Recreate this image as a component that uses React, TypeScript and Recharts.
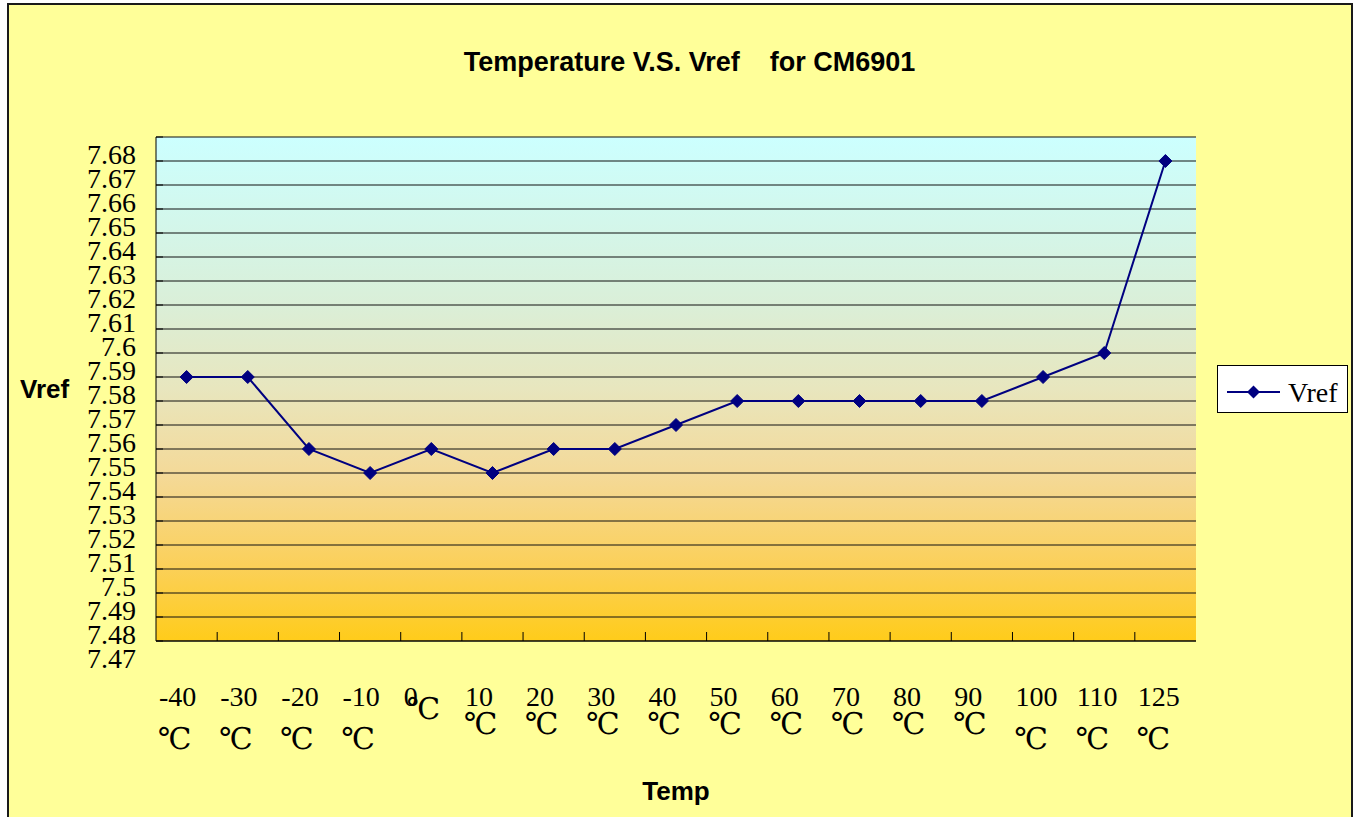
import React from "react";
import { LineChart, Line, XAxis, YAxis, CartesianGrid, Legend, Label } from "recharts";

const temps = ["-40℃", "-30℃", "-20℃", "-10℃", "0℃", "10℃", "20℃", "30℃", "40℃", "50℃", "60℃", "70℃", "80℃", "90℃", "100℃", "110℃", "125℃"];
const vref = [7.59, 7.59, 7.56, 7.55, 7.56, 7.55, 7.56, 7.56, 7.57, 7.58, 7.58, 7.58, 7.58, 7.58, 7.59, 7.6, 7.68];
const yTicks = [7.69, 7.68, 7.67, 7.66, 7.65, 7.64, 7.63, 7.62, 7.61, 7.6, 7.59, 7.58, 7.57, 7.56, 7.55, 7.54, 7.53, 7.52, 7.51, 7.5, 7.49, 7.48];
const yLabels = ["7.68", "7.67", "7.66", "7.65", "7.64", "7.63", "7.62", "7.61", "7.6", "7.59", "7.58", "7.57", "7.56", "7.55", "7.54", "7.53", "7.52", "7.51", "7.5", "7.49", "7.48", "7.47"];

const data = temps.map((t, i) => ({ temp: t, Vref: vref[i] }));

const NAVY = "#000080";
const SERIF = '"Liberation Serif", "Times New Roman", serif';
const DEG_FONT = '"DejaVu Serif", "Liberation Serif", serif';
const SANS = '"Liberation Sans", Arial, sans-serif';
const PLOT_W = 1040;
const BAND = PLOT_W / temps.length;
const SECOND_LINE_DY: Record<number, number> = { 1: 13, 2: 28, 3: 43 };

const YTick = (props: any) => {
  const { x, y, payload } = props;
  const idx = yTicks.indexOf(payload.value);
  const label = yLabels[idx];
  return (
    <g>
      <line x1={x} x2={x + 7} y1={y} y2={y} stroke="#000" strokeWidth={1} />
      <text x={x - 20} y={y + 27} textAnchor="end" fontFamily={SERIF} fontSize={28} fill="#000">
        {label}
      </text>
    </g>
  );
};

const XTick = (props: any) => {
  const { x, y, payload, index } = props;
  const text: string = String(payload.value);
  const num = text.replace("℃", "");
  const left = x - BAND / 2;
  const dy = SECOND_LINE_DY[num.length] ?? 43;
  const degX = num.length === 1 ? left + 6 : left + 2;
  return (
    <g>
      {index > 0 && <line x1={left} x2={left} y1={y - 9} y2={y} stroke="#000" strokeWidth={1} />}
      <text x={left + 3} y={y + 65} fontFamily={SERIF} fontSize={28} fill="#000">
        {num}
      </text>
      <text x={degX} y={y + 65 + dy} fontFamily={DEG_FONT} fontSize={30} fill="#000">
        ℃
      </text>
    </g>
  );
};

const Diamond = (props: any) => {
  const { cx, cy, index } = props;
  if (cx == null || cy == null) return <g key={`d-${index}`} />;
  const r = 6.5;
  return (
    <polygon
      key={`d-${index}`}
      points={`${cx},${cy - r} ${cx + r},${cy} ${cx},${cy + r} ${cx - r},${cy}`}
      fill={NAVY}
      stroke={NAVY}
      strokeWidth={1}
    />
  );
};

const LegendBox = (props: any) => {
  const name = props?.payload?.[0]?.value ?? "Vref";
  return (
    <svg width={131} height={48} style={{ display: "block" }}>
      <rect x={0.5} y={0.5} width={130} height={47} fill="#fff" stroke="#000" strokeWidth={1} />
      <line x1={10} x2={63} y1={27} y2={27} stroke={NAVY} strokeWidth={2} />
      <polygon points="36.5,20.5 43,27 36.5,33.5 30,27" fill={NAVY} />
      <text x={71} y={37} fontFamily={SERIF} fontSize={28} fill="#000">
        {name}
      </text>
    </svg>
  );
};

export default function App() {
  return (
    <div style={{ position: "absolute", left: 0, top: 0, width: 1358, height: 817, overflow: "hidden", background: "#fff" }}>
      <div
        style={{
          position: "absolute",
          left: 7,
          top: 3,
          width: 1346,
          height: 840,
          boxSizing: "border-box",
          background: "#FFFF99",
          border: "2px solid #1a1a1a",
        }}
      />
      <div
        style={{
          position: "absolute",
          left: 0,
          top: 49,
          width: 1379,
          textAlign: "center",
          fontFamily: SANS,
          fontWeight: "bold",
          fontSize: 27,
          lineHeight: "27px",
          color: "#000",
          whiteSpace: "pre",
        }}
      >
        {"Temperature V.S. Vref    for CM6901"}
      </div>
      <div style={{ position: "absolute", left: 0, top: 0 }}>
        <LineChart width={1358} height={817} data={data} margin={{ top: 137, right: 162, bottom: 0, left: 8 }}>
          <defs>
            <linearGradient id="plotBg" x1="0" y1="0" x2="0" y2="1">
              <stop offset="0%" stopColor="#CCFFFF" />
              <stop offset="33%" stopColor="#DAEFD8" />
              <stop offset="50%" stopColor="#E8E6BE" />
              <stop offset="67%" stopColor="#F4D998" />
              <stop offset="85%" stopColor="#FBD05A" />
              <stop offset="100%" stopColor="#FFCC1A" />
            </linearGradient>
          </defs>
          <CartesianGrid vertical={false} stroke="#111" strokeWidth={1} fill="url(#plotBg)" fillOpacity={1} />
          <XAxis
            dataKey="temp"
            type="category"
            scale="point"
            padding={{ left: BAND / 2, right: BAND / 2 }}
            height={176}
            interval={0}
            tickSize={0}
            tickMargin={0}
            tickLine={false}
            axisLine={{ stroke: "#000", strokeWidth: 1 }}
            tick={(p: any) => <XTick {...p} />}
          >
            <Label
              value="Temp"
              position="insideBottom"
              offset={17}
              style={{ fontFamily: SANS, fontWeight: "bold", fontSize: 26, fill: "#000" }}
            />
          </XAxis>
          <XAxis
            xAxisId="top"
            dataKey="temp"
            orientation="top"
            height={0}
            tick={false}
            tickLine={false}
            axisLine={{ stroke: "#808080", strokeWidth: 1 }}
          />
          <YAxis
            type="number"
            domain={[7.48, 7.69]}
            ticks={yTicks}
            interval={0}
            allowDataOverflow
            width={148}
            tickSize={0}
            tickMargin={0}
            tickLine={false}
            axisLine={{ stroke: "#000", strokeWidth: 1 }}
            tick={(p: any) => <YTick {...p} />}
          >
            <Label
              value="Vref"
              position="insideLeft"
              offset={12}
              style={{ fontFamily: SANS, fontWeight: "bold", fontSize: 26, fill: "#000", textAnchor: "start" }}
            />
          </YAxis>
          <YAxis
            yAxisId="right"
            orientation="right"
            width={0}
            tick={false}
            tickLine={false}
            axisLine={{ stroke: "#808080", strokeWidth: 1 }}
          />
          <Legend
            layout="horizontal"
            verticalAlign="middle"
            align="center"
            wrapperStyle={{ left: 1217, top: 365, right: "auto", bottom: "auto", width: 131, height: 48 }}
            content={(p: any) => <LegendBox {...p} />}
          />
          <Line
            type="linear"
            dataKey="Vref"
            name="Vref"
            stroke={NAVY}
            strokeWidth={2}
            dot={(p: any) => <Diamond {...p} key={`d-${p.index}`} />}
            activeDot={false}
            isAnimationActive={false}
          />
        </LineChart>
      </div>
    </div>
  );
}
